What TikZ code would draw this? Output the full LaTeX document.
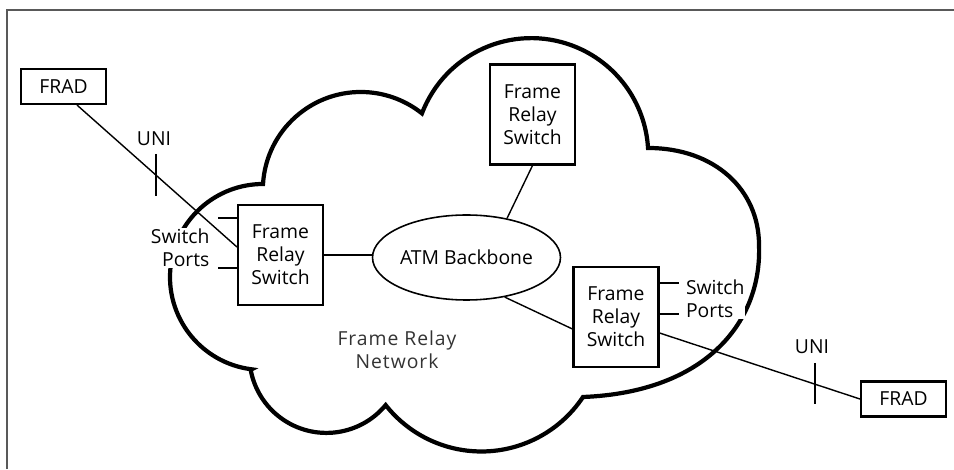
\documentclass[tikz,border=0pt]{standalone}
\usepackage{fontspec}
\setmainfont{Open Sans}
\newfontfamily\netfont[LetterSpace=5]{Open Sans}
\usetikzlibrary{shapes.geometric}
\begin{document}
\begin{tikzpicture}[
        scale=1,
        thick,
        font=\fontsize{11}{13}\selectfont
    ]
    \tikzset{
        frad/.style = {rectangle, draw=black, line width=1.2pt, minimum width=1.7cm, minimum height=0.7cm, inner sep=0pt},
        frswitch/.style = {rectangle, draw=black, line width=1.2pt, align=center, minimum width=1.7cm, minimum height=2.0cm, inner sep=0pt},
        backbone/.style = {ellipse, draw=black, line width=0.9pt, minimum width=3.7cm, minimum height=1.7cm, inner sep=0pt},
        portlabel/.style = {fill=white, inner sep=0.5pt},
        link/.style = {-, line width=0.8pt},
        cloudline/.style = {line width=2.4pt},
    }
    \useasboundingbox (0,0) rectangle (19.08,9.38);
    \draw[line width=1.1pt, black!65] (0.14,0) -- (0.14,9.18) -- (19.08,9.18);
    % network cloud
    \draw[cloudline] (5.26,3.84) ++(-97:1.86)
        arc[start angle=-97, end angle=-270, radius=1.86]
        arc[start angle=-183.5, end angle=-308.6, radius=1.96]
        arc[start angle=-200.9, end angle=-356.5, radius=2.34]
        .. controls (14.30,6.42) and (15.18,5.58) .. (15.18,4.48)
        .. controls (15.24,2.98) and (14.16,1.54) .. (11.66,1.44)
        arc[start angle=-33.6, end angle=-141.7, radius=2.44]
        arc[start angle=-39.7, end angle=-169.6, radius=1.54]
        -- cycle;
    %
    \node[frad] at (1.27,7.65) (frad1) {FRAD};
    \node[frad] at (18.07,1.40) (frad2) {FRAD};
    \node[frswitch] at (5.61,4.28) (frs1) {Frame\\Relay\\Switch};
    \node[frswitch] at (10.65,7.09) (frs2) {Frame\\Relay\\Switch};
    \node[frswitch] at (12.32,3.04) (frs3) {Frame\\Relay\\Switch};
    \node[backbone] at (9.33,4.23) (atm) {ATM Backbone};
    %
    \node[portlabel, anchor=east, align=right] at (4.22,4.42) (ports1) {Switch\\Ports};
    \node[portlabel, anchor=west, align=left] at (13.69,3.40) (ports2) {Switch\\Ports};
    \node at (3.08,6.60) (uni1) {UNI};
    \node at (16.24,2.45) (uni2) {UNI};
    \node[align=center, text=black!80, font=\netfont\fontsize{11}{13}\selectfont] at (7.94,2.39) (net) {Frame Relay\\Network};
    %
    \draw[link] ([xshift=0.27cm]frad1.south) -- ([yshift=0.16cm]frs1.west);
    \draw[link] (frs1.east) -- (frs1.east -| atm.west);
    \draw[link] (frs2.south) -- (atm.44);
    \draw[link] (atm.-46) -- ([yshift=-0.24cm]frs3.west);
    \draw[link] ([yshift=-0.32cm]frs3.east) -- (frad2.west);
    %
    \draw[link] ([yshift=0.74cm]frs1.west) -- ++(-0.38,0);
    \draw[link] ([yshift=-0.26cm]frs1.west) -- ++(-0.38,0);
    \draw[link] ([yshift=0.68cm]frs3.east) -- ++(0.38,0);
    \draw[link] ([yshift=0.06cm]frs3.east) -- ++(0.38,0);
    %
    \draw[link] (3.12,6.30) -- (3.12,5.46);
    \draw[link] (16.30,2.12) -- (16.30,1.30);
\end{tikzpicture}
\end{document}
